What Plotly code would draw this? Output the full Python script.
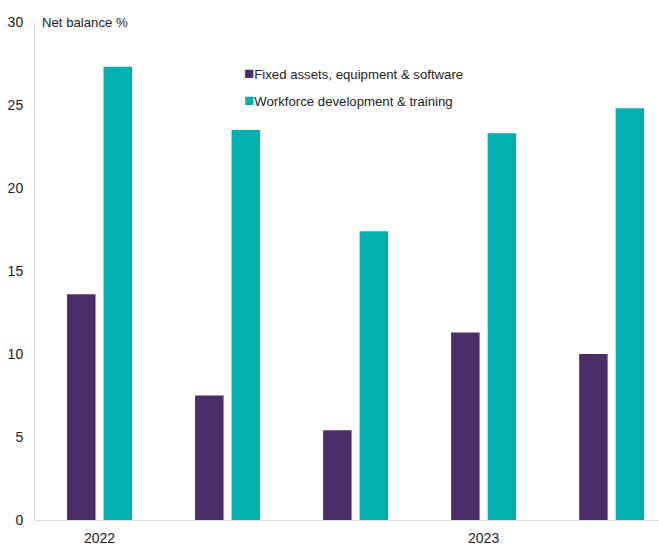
import plotly.graph_objects as go

# Survey periods (one group of bars each) and the year labels shown on the axis
periods = [0, 1, 2, 3, 4]
period_labels = ["2022", "", "", "2023", ""]

series_names = ["Fixed assets, equipment & software", "Workforce development & training"]
fixed_assets = [13.6, 7.5, 5.4, 11.3, 10.0]
workforce = [27.3, 23.5, 17.4, 23.3, 24.8]

PURPLE = "#4b2e69"
TEAL = "#00b0b0"
FONT = "Liberation Sans, Arial, sans-serif"

fig = go.Figure()
fig.add_trace(go.Bar(x=periods, y=fixed_assets, name=series_names[0],
                     marker=dict(color=PURPLE, line=dict(width=0))))
fig.add_trace(go.Bar(x=periods, y=workforce, name=series_names[1],
                     marker=dict(color=TEAL, line=dict(width=0))))

tick_pos = [p for p, lab in zip(periods, period_labels) if lab]
tick_txt = [lab for lab in period_labels if lab]

# Compact key: coloured square followed closely by the series name
key = []
for i, (name, col) in enumerate(zip(series_names, [PURPLE, TEAL])):
    key.append(dict(text=f"<span style='color:{col};font-size:17px'>■</span>{name}",
                    xref="paper", yref="paper", x=0.331, y=0.897 - i * 0.0542,
                    xanchor="left", yanchor="middle", showarrow=False,
                    font=dict(size=13.2)))

fig.update_layout(
    width=659, height=546,
    margin=dict(l=35, r=0, t=22, b=26),
    paper_bgcolor="white", plot_bgcolor="white",
    font=dict(family=FONT, size=14, color="#222222"),
    barmode="group", bargap=0.43, bargroupgap=0.22,
    showlegend=False,
    xaxis=dict(range=[-0.504, 4.37], tickmode="array", tickvals=tick_pos, ticktext=tick_txt,
               showgrid=False, zeroline=False, showline=True, linecolor="#d9d9d9", linewidth=1,
               ticks="", ticklabelstandoff=5),
    yaxis=dict(range=[0, 30], tickvals=[0, 5, 10, 15, 20, 25, 30],
               showgrid=False, zeroline=False, showline=True, linecolor="#d9d9d9", linewidth=1,
               ticks="", ticklabelstandoff=8),
    annotations=[dict(text="Net balance %", xref="paper", yref="paper", x=0.008, y=1.0,
                      xanchor="left", yanchor="middle", showarrow=False,
                      font=dict(size=13.2))] + key,
)

fig.write_html("out.html")
